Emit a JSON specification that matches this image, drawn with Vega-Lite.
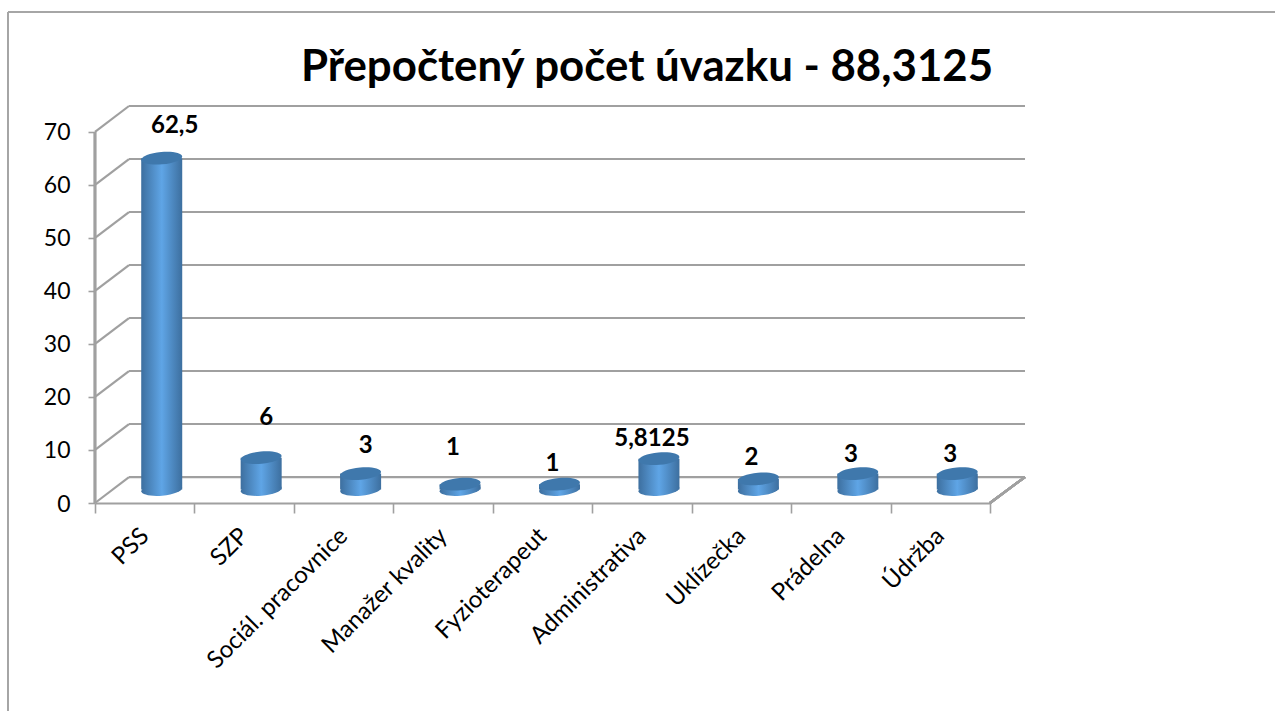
{"$schema":"https://vega.github.io/schema/vega-lite/v6.json","width":930,"height":397,"autosize":"none","padding":{"left":95,"top":106,"right":250,"bottom":208},"background":"white","config":{"view":{"stroke":null}},
"title":{"text":"Přepočtený počet úvazku - 88,3125","font":"Lato","fontSize":43.8,"fontWeight":"bold","color":"#000000","anchor":"start","frame":"group","dx":206,"offset":-78},
"datasets":{"grid":[{"level":0,"back":4.9},{"level":10,"back":14.9},{"level":20,"back":24.9},{"level":30,"back":34.9},{"level":40,"back":44.9},{"level":50,"back":54.9},{"level":60,"back":64.9},{"level":70,"back":74.9}],
"jobs":[{"name":"PSS","v":62.5,"t":"62,5"},{"name":"SZP","v":6,"t":"6"},{"name":"Sociál. pracovnice","v":3,"t":"3"},{"name":"Manažer kvality","v":1,"t":"1"},{"name":"Fyzioterapeut","v":1,"t":"1"},{"name":"Administrativa","v":5.8125,"t":"5,8125"},{"name":"Uklízečka","v":2,"t":"2"},{"name":"Prádelna","v":3,"t":"3"},{"name":"Údržba","v":3,"t":"3"}]},
"resolve":{"scale":{"x":"independent"},"axis":{"x":"independent"}},
"encoding":{"y":{"type":"quantitative","scale":{"domain":[0,74.9],"nice":false,"zero":false}}},
"layer":[
{"data":{"name":"grid"},
"encoding":{"x":{"type":"quantitative","scale":{"domain":[0,930],"nice":false,"zero":false},"axis":null}},
"layer":[
{"mark":{"type":"rule","color":"#a6a6a6","strokeWidth":1.6},"encoding":{"x":{"datum":-87,"type":"quantitative"},"x2":{"datum":1180},"y":{"datum":92.6}}},
{"mark":{"type":"rule","color":"#a6a6a6","strokeWidth":1.6},"encoding":{"x":{"datum":-87,"type":"quantitative"},"y":{"datum":92.6},"y2":{"datum":-39.4}}},
{"mark":{"type":"rule","color":"#a0a0a0","strokeWidth":2.2},"encoding":{"x":{"datum":34,"type":"quantitative"},"x2":{"datum":930},"y":{"field":"back","type":"quantitative","axis":{"values":[0,10,20,30,40,50,60,70],"title":null,"grid":false,"domain":false,"tickColor":"#a0a0a0","tickWidth":1.6,"tickSize":7,"labelFont":"Lato","labelFontSize":23,"labelColor":"#000000","labelPadding":18,"labelOffset":1}}}},
{"mark":{"type":"rule","color":"#a0a0a0","strokeWidth":2.2},"encoding":{"x":{"datum":0,"type":"quantitative"},"x2":{"datum":34},"y":{"field":"level","type":"quantitative"},"y2":{"field":"back"}}},
{"mark":{"type":"rule","color":"#a0a0a0","strokeWidth":2.2},"encoding":{"x":{"datum":895,"type":"quantitative"},"x2":{"datum":930},"y":{"datum":0},"y2":{"datum":4.9}}},
{"mark":{"type":"rule","color":"#a0a0a0","strokeWidth":2.2},"encoding":{"x":{"datum":0,"type":"quantitative"},"y":{"datum":0},"y2":{"datum":70}}}
]},
{"data":{"name":"jobs"},
"encoding":{"x":{"field":"name","type":"nominal","sort":null,"scale":{"range":[0,895],"padding":0},"axis":{"title":null,"domainColor":"#a0a0a0","domainWidth":2.2,"tickBand":"extent","tickColor":"#a0a0a0","tickWidth":1.6,"tickSize":10,"labelAngle":-45,"labelAlign":"right","labelBaseline":"middle","labelFont":"Lato","labelFontSize":24,"labelColor":"#000000","labelPadding":19,"labelLimit":400}},"y":{"field":"v","type":"quantitative"}},
"layer":[
{"mark":{"type":"point","filled":true,"opacity":1,"shape":"M-1,0A1,0.3,0,1,1,1,0A1,0.3,0,1,1,-1,0Z","size":1681,"angle":-5,"xOffset":17,"yOffset":-13.5,"fill":{"x1":0,"y1":0,"x2":1,"y2":0,"gradient":"linear","stops":[{"offset":0,"color":"#3d6f9f"},{"offset":0.5,"color":"#5fa5e6"},{"offset":1,"color":"#3d6f9f"}]}},"encoding":{"y":{"datum":0}}},
{"mark":{"type":"bar","size":41,"xOffset":17,"x2Offset":17,"yOffset":-13.5,"y2Offset":-13.5,"fill":{"x1":0,"y1":0,"x2":1,"y2":0,"gradient":"linear","stops":[{"offset":0,"color":"#3d6f9f"},{"offset":0.5,"color":"#5fa5e6"},{"offset":1,"color":"#3d6f9f"}]}},"encoding":{"y2":{"datum":0}}},
{"mark":{"type":"point","filled":true,"opacity":1,"shape":"M-1,0A1,0.3,0,1,1,1,0A1,0.3,0,1,1,-1,0Z","size":1681,"angle":-5,"xOffset":17,"yOffset":-13.5,"fill":"#3f78ac"}},
{"transform":[{"filter":"datum.name==='PSS'"}],"mark":{"type":"text","font":"Lato","fontSize":24,"fontWeight":"bold","color":"#000000","dx":30,"dy":-46},"encoding":{"text":{"field":"t"}}},
{"transform":[{"filter":"datum.name==='SZP'"}],"mark":{"type":"text","font":"Lato","fontSize":24,"fontWeight":"bold","color":"#000000","dx":22,"dy":-53},"encoding":{"text":{"field":"t"}}},
{"transform":[{"filter":"datum.name==='Sociál. pracovnice'"}],"mark":{"type":"text","font":"Lato","fontSize":24,"fontWeight":"bold","color":"#000000","dx":22,"dy":-41},"encoding":{"text":{"field":"t"}}},
{"transform":[{"filter":"datum.name==='Manažer kvality'"}],"mark":{"type":"text","font":"Lato","fontSize":24,"fontWeight":"bold","color":"#000000","dx":10,"dy":-50},"encoding":{"text":{"field":"t"}}},
{"transform":[{"filter":"datum.name==='Fyzioterapeut'"}],"mark":{"type":"text","font":"Lato","fontSize":24,"fontWeight":"bold","color":"#000000","dx":10,"dy":-34},"encoding":{"text":{"field":"t"}}},
{"transform":[{"filter":"datum.name==='Administrativa'"}],"mark":{"type":"text","font":"Lato","fontSize":24,"fontWeight":"bold","color":"#000000","dx":10,"dy":-33},"encoding":{"text":{"field":"t"}}},
{"transform":[{"filter":"datum.name==='Uklízečka'"}],"mark":{"type":"text","font":"Lato","fontSize":24,"fontWeight":"bold","color":"#000000","dx":10,"dy":-34},"encoding":{"text":{"field":"t"}}},
{"transform":[{"filter":"datum.name==='Prádelna' || datum.name==='Údržba'"}],"mark":{"type":"text","font":"Lato","fontSize":24,"fontWeight":"bold","color":"#000000","dx":10,"dy":-32},"encoding":{"text":{"field":"t"}}}
]}
]}
